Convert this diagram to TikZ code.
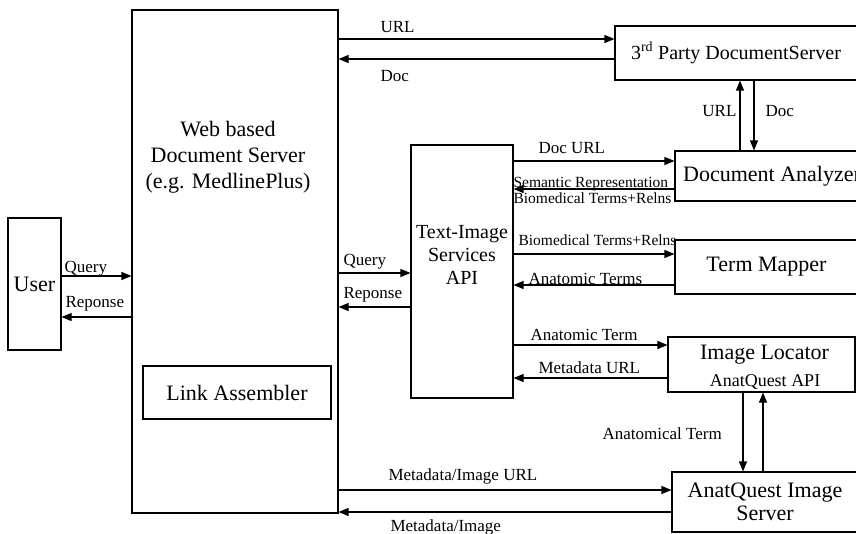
\documentclass[tikz,border=0pt]{standalone}
\usepackage{fontspec}
\setmainfont{Liberation Serif}
\usepackage{tikz}
\usetikzlibrary{arrows.meta}
\tikzset{
  box/.style={draw, line width=1.1pt, inner sep=0pt, anchor=center},
  big/.style={font=\fontsize{22}{26}\selectfont, align=center},
  lbl/.style={anchor=base west, inner sep=0pt, font=\fontsize{17}{20}\selectfont},
  slbl/.style={anchor=base west, inner sep=0pt, font=\fontsize{15.5}{18}\selectfont}
}
\begin{document}
\begin{tikzpicture}[x=1pt, y=-1pt, line width=1.1pt,
  >={Triangle[length=10pt,width=8pt]}]
\useasboundingbox (0,0) rectangle (856,533);
\node [box, minimum width=53, minimum height=132, big] (user) at (34.5,284) {User};
\node [box, minimum width=206, minimum height=503] (web) at (235,261.5) {};
\node [big] (webtxt) at (228,157) {Web based\\Document Server\\(e.g. MedlinePlus)};
\node [box, minimum width=188, minimum height=53, big] (link) at (237,392.5) {Link Assembler};
\node [box, minimum width=102, minimum height=253] (tis) at (462,271.5) {};
\node [align=center, font=\fontsize{20}{23}\selectfont] (tistxt) at (462,255)
  {Text-Image\\Services\\API};
\node [box, minimum width=242, minimum height=54, font=\fontsize{20}{24}\selectfont]
  (third) at (736,53) {3\textsuperscript{rd} Party DocumentServer};
\node [box, minimum width=194, minimum height=50, big] (docan) at (772,176) {Document Analyzer};
\node [box, minimum width=183, minimum height=54, big] (term) at (766.5,267) {Term Mapper};
\node [box, minimum width=187, minimum height=55] (imgloc) at (761.5,364.5) {};
\node [font=\fontsize{22}{24}\selectfont] (imgloctxt) at (764.5,355) {Image Locator};
\node [font=\fontsize{18}{20}\selectfont] (aqapi) at (765,382) {AnatQuest API};
\node [box, minimum width=186, minimum height=60, font=\fontsize{22}{23}\selectfont, align=center]
  (aqs) at (765,502) {AnatQuest Image\\Server};

\draw [->] (web.east |- 0,39) -- (third.west |- 0,39);
\draw [->] (third.west |- 0,59) -- (web.east |- 0,59);
\node [lbl] (lurl) at (380,32) {URL};
\node [lbl] (ldoc) at (380,81) {Doc};

\draw [->] (docan.north -| 740,0) -- (third.south -| 740,0);
\draw [->] (third.south -| 754,0) -- (docan.north -| 754,0);
\node [lbl, anchor=base east] (lurl2) at (737,116) {URL};
\node [lbl] (ldoc2) at (765,116) {Doc};

\draw [->] (user.east |- 0,276) -- (web.west |- 0,276);
\draw [->] (web.west |- 0,317) -- (user.east |- 0,317);
\node [lbl] (lq1) at (64,272) {Query};
\node [lbl] (lr1) at (65,307) {Reponse};

\draw [->] (web.east |- 0,273) -- (tis.west |- 0,273);
\draw [->] (tis.west |- 0,307) -- (web.east |- 0,307);
\node [lbl] (lq2) at (343,265) {Query};
\node [lbl] (lr2) at (343,298) {Reponse};

\draw [->] (tis.east |- 0,161) -- (docan.west |- 0,161);
\draw [->] (docan.west |- 0,189) -- (tis.east |- 0,189);
\node [lbl] (ldocurl) at (538,153) {Doc URL};
\node [slbl] (lsem) at (513,187) {Semantic Representation};
\node [slbl] (lbio1) at (513,203) {Biomedical Terms+Relns};

\draw [->] (tis.east |- 0,254) -- (term.west |- 0,254);
\draw [->] (term.west |- 0,285) -- (tis.east |- 0,285);
\node [slbl] (lbio2) at (518,245) {Biomedical Terms+Relns};
\node [lbl] (lanat1) at (528,284) {Anatomic Terms};

\draw [->] (tis.east |- 0,345) -- (imgloc.west |- 0,345);
\draw [->] (imgloc.west |- 0,378) -- (tis.east |- 0,378);
\node [lbl] (lanat2) at (530,340) {Anatomic Term};
\node [lbl] (lmeta) at (538,373) {Metadata URL};

\draw [->] (imgloc.south -| 743,0) -- (aqs.north -| 743,0);
\draw [->] (aqs.north -| 763,0) -- (imgloc.south -| 763,0);
\node [lbl] (lanat3) at (602,439) {Anatomical Term};

\draw [->] (web.east |- 0,490) -- (aqs.west |- 0,490);
\draw [->] (aqs.west |- 0,512) -- (web.east |- 0,512);
\node [lbl] (lmiu) at (388,480) {Metadata/Image URL};
\node [lbl] (lmi) at (390,531) {Metadata/Image};
\end{tikzpicture}
\end{document}
